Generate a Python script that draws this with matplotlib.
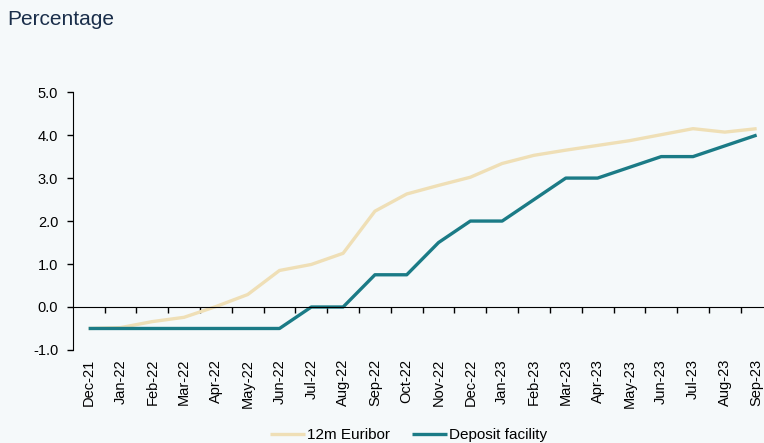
import matplotlib
matplotlib.use("Agg")
import matplotlib.pyplot as plt
import numpy as np

months = ["Dec-21", "Jan-22", "Feb-22", "Mar-22", "Apr-22", "May-22", "Jun-22", "Jul-22",
          "Aug-22", "Sep-22", "Oct-22", "Nov-22", "Dec-22", "Jan-23", "Feb-23", "Mar-23",
          "Apr-23", "May-23", "Jun-23", "Jul-23", "Aug-23", "Sep-23"]
euribor = [-0.50, -0.48, -0.34, -0.24, 0.01, 0.29, 0.85, 0.99, 1.25, 2.23, 2.63, 2.83,
           3.02, 3.34, 3.53, 3.65, 3.76, 3.87, 4.01, 4.15, 4.07, 4.15]
deposit = [-0.50, -0.50, -0.50, -0.50, -0.50, -0.50, -0.50, 0.00, 0.00, 0.75, 0.75, 1.50,
           2.00, 2.00, 2.50, 3.00, 3.00, 3.25, 3.50, 3.50, 3.75, 4.00]

BG = "#f5f9fa"
BEIGE, TEAL = "#efdfb6", "#1b7b86"
plt.rcParams["font.family"] = ["Liberation Sans", "DejaVu Sans"]

fig = plt.figure(figsize=(7.64, 4.43), dpi=100, facecolor=BG)
ax = fig.add_axes([0.0952, 0.21, 0.916, 0.582], facecolor=BG)
x = np.arange(len(months))
ax.plot(x, euribor, color=BEIGE, lw=2.4, label="12m Euribor", solid_capstyle="butt")
ax.plot(x, deposit, color=TEAL, lw=2.4, label="Deposit facility", solid_capstyle="butt")

ax.set_xlim(-0.5, len(months) - 0.5)
ax.set_ylim(-1, 5)
yt = np.arange(-1, 5.1, 1)
ax.set_yticks(yt)
ax.set_yticklabels([f"{v:.1f}" for v in yt], fontsize=10.5)
ax.tick_params(axis="y", length=4, width=1, direction="out", pad=6.5)

ax.spines["top"].set_visible(False)
ax.spines["right"].set_visible(False)
ax.spines["bottom"].set_position(("data", 0))
ax.set_xticks(x)
ax.set_xticklabels(months, rotation=90, fontsize=10.5, va="top")
ax.tick_params(axis="x", which="major", length=0, pad=37.5)
ax.set_xticks(x[:-1] + 0.5, minor=True)
ax.tick_params(axis="x", which="minor", length=4, width=1, direction="out")

fig.text(0.01, 0.955, "Percentage", fontsize=15, color="#1a2e4a", va="center")
fig.legend(loc="center", bbox_to_anchor=(0.535, 0.018), ncol=2, frameon=False, fontsize=11,
           handlelength=2.3, handletextpad=0.15, columnspacing=1.4)
fig.savefig("out.png", dpi=100, facecolor=BG)
